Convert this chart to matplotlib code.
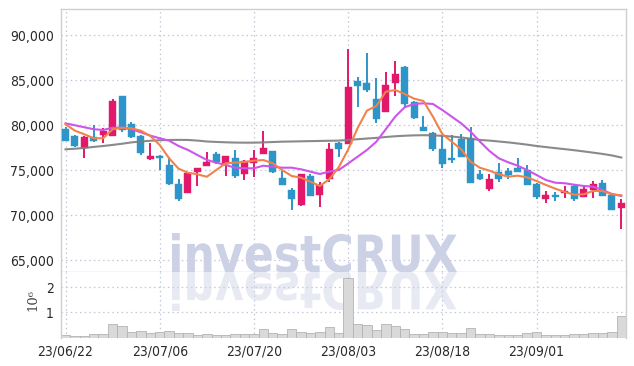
import matplotlib
matplotlib.use('Agg')
import matplotlib.pyplot as plt
from matplotlib.textpath import TextPath
from matplotlib.font_manager import FontProperties
from matplotlib.patches import PathPatch
from matplotlib.transforms import Affine2D

dates = ['23/06/22', '23/06/23', '23/06/26', '23/06/27', '23/06/28', '23/06/29', '23/06/30',
         '23/07/03', '23/07/04', '23/07/05', '23/07/06', '23/07/07', '23/07/10', '23/07/11',
         '23/07/12', '23/07/13', '23/07/14', '23/07/17', '23/07/18', '23/07/19', '23/07/20',
         '23/07/21', '23/07/24', '23/07/25', '23/07/26', '23/07/27', '23/07/28', '23/07/31',
         '23/08/01', '23/08/02', '23/08/03', '23/08/04', '23/08/07', '23/08/08', '23/08/09',
         '23/08/10', '23/08/11', '23/08/14', '23/08/16', '23/08/17', '23/08/18', '23/08/21',
         '23/08/22', '23/08/23', '23/08/24', '23/08/25', '23/08/28', '23/08/29', '23/08/30',
         '23/08/31', '23/09/01', '23/09/04', '23/09/05', '23/09/06', '23/09/07', '23/09/08',
         '23/09/11', '23/09/12', '23/09/13', '23/09/14']

opens = [79600, 78800, 77450, 78650, 78950, 78850, 83200, 80150, 78850, 76200,
         76600, 75600, 73450, 72500, 74850, 75500, 76800, 75700, 76350, 74600,
         75850, 76850, 77100, 74100, 72800, 71100, 74350, 72200, 74050, 78050,
         77950, 84900, 84700, 82900, 81500, 84750, 86500, 82600, 79800, 79100,
         77350, 76400, 78500, 78600, 74600, 72950, 74800, 74950, 75300, 75000,
         73500, 71800, 72250, 72450, 73250, 72050, 72800, 73600, 72200, 70850]
highs = [79850, 78900, 78800, 80000, 79650, 82900, 83250, 80350, 78900, 78000,
         76650, 76450, 74050, 74700, 75300, 77050, 77050, 76600, 77250, 76100,
         77300, 79400, 77150, 74900, 73050, 74600, 74600, 73700, 78000, 78100,
         88450, 85400, 88050, 85200, 85900, 87100, 86600, 82700, 81050, 79200,
         78800, 78900, 79050, 79800, 75050, 74550, 75800, 75200, 76350, 75600,
         73550, 72650, 72600, 73200, 73500, 73250, 73850, 73900, 72250, 71850]
lows = [78200, 77600, 76350, 78100, 78050, 78800, 79250, 78600, 76650, 76100,
        75050, 73400, 71600, 72450, 73200, 75450, 75750, 74400, 74100, 73900,
        74200, 76800, 74700, 73350, 70600, 71000, 72100, 70950, 73700, 76500,
        77900, 82000, 83700, 80250, 81450, 83200, 82050, 80700, 79350, 77150,
        75200, 75850, 76450, 73550, 73900, 72700, 73700, 74000, 74800, 73350,
        71800, 71350, 71600, 71900, 71600, 72000, 71900, 72100, 70550, 68500]
closes = [78300, 77700, 78700, 78200, 79400, 82700, 79450, 78750, 76950, 76550,
          76400, 73500, 71800, 74650, 75200, 75900, 75900, 76600, 74400, 76000,
          76350, 77450, 74850, 73400, 71850, 74600, 72150, 73350, 77350, 77350,
          84250, 84400, 83950, 80750, 84500, 85750, 82350, 80850, 79400, 77350,
          75700, 76100, 76500, 73600, 74000, 74000, 74050, 74500, 74850, 73400,
          72050, 72250, 72050, 72650, 71850, 72900, 73500, 72150, 70600, 71350]

ma_short = [80110, 79400, 79000, 78560, 78560, 79560, 79730, 79670, 79400, 78810,
            77810, 76330, 75180, 74730, 74560, 74280, 75030, 75780, 75850, 75920,
            76070, 76140, 75780, 75030, 74370, 74180, 73730, 73260, 74000, 75330,
            77300, 79670, 81630, 82150, 83730, 83920, 83480, 82960, 82700, 80960,
            79030, 78180, 77330, 75960, 75280, 74960, 74560, 74290, 74400, 74220,
            73810, 73370, 72960, 72590, 72290, 72330, 72700, 72700, 72330, 72220]
ma_mid = [80220, 80000, 79780, 79560, 79480, 79730, 79730, 79560, 79220, 78850,
          78560, 78290, 77700, 77260, 76700, 76150, 75850, 75590, 75290, 75220,
          75220, 75510, 75400, 75290, 75290, 75110, 74850, 74590, 74850, 75030,
          75750, 76510, 77260, 78180, 79560, 80960, 82000, 82370, 82440, 82370,
          81700, 80960, 80220, 79290, 78180, 77150, 76330, 75890, 75510, 75030,
          74480, 73920, 73620, 73560, 73400, 73260, 73180, 72810, 72370, 72150]
ma_long = [77330, 77400, 77480, 77600, 77700, 77820, 77950, 78100, 78200, 78280,
           78340, 78370, 78380, 78370, 78300, 78200, 78150, 78110, 78080, 78070,
           78070, 78100, 78140, 78180, 78200, 78220, 78240, 78260, 78280, 78300,
           78370, 78450, 78530, 78600, 78700, 78780, 78840, 78880, 78900, 78880,
           78830, 78750, 78650, 78500, 78370, 78300, 78200, 78100, 77980, 77850,
           77700, 77580, 77460, 77350, 77230, 77100, 76960, 76820, 76650, 76420]

volume = [0.11, 0.07, 0.07, 0.12, 0.12, 0.52, 0.44, 0.22, 0.26, 0.18,
          0.22, 0.26, 0.18, 0.18, 0.09, 0.13, 0.09, 0.09, 0.14, 0.14,
          0.14, 0.33, 0.18, 0.14, 0.32, 0.22, 0.19, 0.22, 0.40, 0.18,
          2.35, 0.53, 0.48, 0.28, 0.53, 0.44, 0.32, 0.13, 0.13, 0.22,
          0.22, 0.18, 0.18, 0.36, 0.14, 0.14, 0.09, 0.09, 0.09, 0.18,
          0.22, 0.09, 0.09, 0.09, 0.14, 0.14, 0.18, 0.18, 0.22, 0.85]  # millions

date_tick_idx = [0, 10, 20, 30, 40, 50]
price_ticks = [65000, 70000, 75000, 80000, 85000, 90000]
price_labels = ['65,000', '70,000', '75,000', '80,000', '85,000', '90,000']
vol_ticks = [1, 2]

UP = '#e2186b'
DOWN = '#2e95c8'
GRID = '#c3c7d8'
SPINE = '#cfcfcf'

W, H = 634, 366
fig = plt.figure(figsize=(W / 100, H / 100), dpi=100)
ax = fig.add_axes([61 / W, (H - 272) / H, 565 / W, 263 / H])
axv = fig.add_axes([61 / W, (H - 337.5) / H, 565 / W, 65.5 / H], sharex=ax)

tickfont = FontProperties(family='DejaVu Sans', stretch='condensed', size=10)

n = len(dates)
x = list(range(n))
colors = [UP if c >= o else DOWN for o, c in zip(opens, closes)]
bottoms = [min(o, c) for o, c in zip(opens, closes)]
heights = [max(abs(c - o), 60) for o, c in zip(opens, closes)]

ax.vlines(x, lows, highs, colors=colors, linewidth=1.4, zorder=2)
ax.bar(x, heights, bottom=bottoms, width=0.74, color=colors, edgecolor=colors,
       linewidth=0.3, zorder=3)
ax.plot(x, ma_long, color='#7d7d7d', lw=1.5, alpha=0.9, zorder=4)
ax.plot(x, ma_mid, color='#cc55ea', lw=1.5, zorder=4)
ax.plot(x, ma_short, color='#f0824c', lw=1.5, zorder=4)

ax.set_xlim(-0.48, 59.5)
ax.set_ylim(63700, 92920)
ax.set_yticks(price_ticks)
ax.set_yticklabels(price_labels, fontproperties=tickfont, color='#2a2a2a')
ax.tick_params(axis='both', length=0, pad=5)
ax.tick_params(axis='x', labelbottom=False)
ax.set_xticks(date_tick_idx)
ax.grid(True, color=GRID, linestyle=(0, (1.2, 2.5)), linewidth=0.9)
ax.set_axisbelow(True)
for s in ax.spines.values():
    s.set_color(SPINE)
    s.set_linewidth(1.0)

axv.bar(x, volume, width=1.0, color='#d9d9d9', edgecolor='#b3b3b3', linewidth=0.6, zorder=2)
axv.set_ylim(0, 2.6)
axv.set_yticks(vol_ticks)
axv.set_yticklabels([str(v) for v in vol_ticks], fontproperties=tickfont, color='#2a2a2a')
axv.set_xticks(date_tick_idx)
axv.set_xticklabels([dates[i] for i in date_tick_idx], fontproperties=tickfont, color='#2a2a2a')
axv.tick_params(axis='both', length=0, pad=5)
axv.grid(True, color=GRID, linestyle=(0, (1.2, 2.5)), linewidth=0.9)
axv.set_axisbelow(True)
for k, s in axv.spines.items():
    s.set_color(SPINE)
    s.set_linewidth(1.0)
axv.spines['bottom'].set_visible(False)
axv.spines['top'].set_visible(False)

fig.text(33 / W, 1 - 300 / H, '10\u2076', rotation=90, ha='center', va='center',
         family='DejaVu Serif', fontsize=9.5, color='#444444')

# watermark with reflection
wm = TextPath((0, 0), 'investCRUX', size=100,
              prop=FontProperties(family='DejaVu Sans', weight='bold'))
ext = wm.get_extents()
x0, x1 = 172 / W, 457 / W
ytop, ybase = 1 - 233 / H, 1 - 272 / H
sx = (x1 - x0) / ext.width
sy = (ytop - ybase) / ext.y1
t_main = Affine2D().translate(-ext.x0, 0).scale(sx, sy).translate(x0, ybase)
p1 = PathPatch(t_main.transform_path(wm), facecolor='#ccd1e6', edgecolor='none',
               transform=fig.transFigure, zorder=0.6)
ax.add_patch(p1)
t_ref = Affine2D().translate(-ext.x0, 0).scale(sx, -sy).translate(x0, ybase)
p2 = PathPatch(t_ref.transform_path(wm), facecolor='#ccd1e6', edgecolor='none',
               alpha=0.45, transform=fig.transFigure, zorder=0.6)
axv.add_patch(p2)

fig.savefig('out.png', dpi=100)
